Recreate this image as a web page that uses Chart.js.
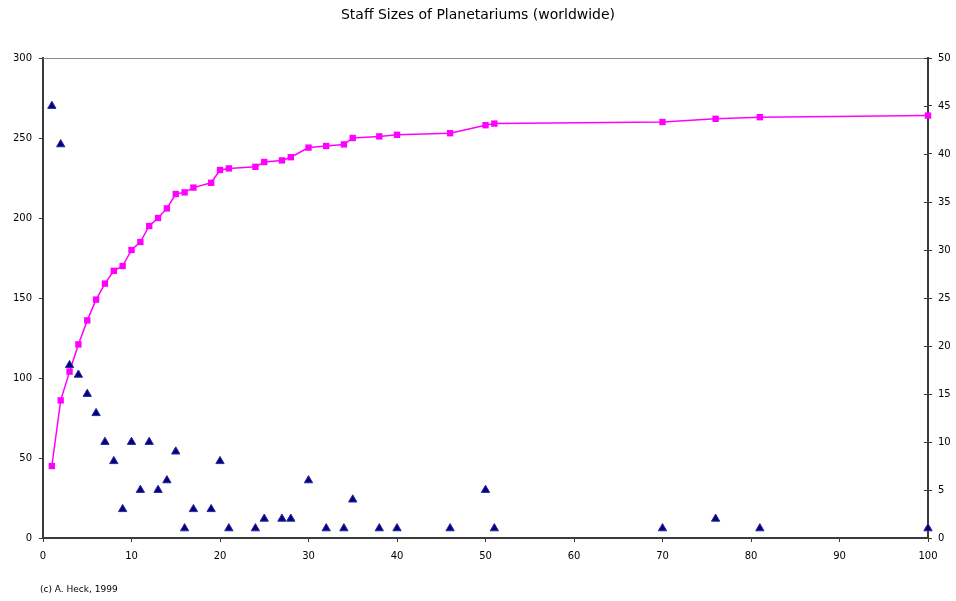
<!DOCTYPE html>
<html>
<head>
<meta charset="utf-8">
<script src="https://cdn.jsdelivr.net/npm/chart.js@4/dist/chart.umd.min.js"></script>
<style>
html,body{margin:0;padding:0;background:#fff;}
#wrap{width:956px;height:601px;position:relative;}
</style>
</head>
<body>
<div id="wrap"><canvas id="c" width="956" height="601"></canvas></div>
<script>
// Staff size (x), number of planetariums with that staff size (right axis),
// cumulative number of planetariums (left axis)
const staffSizes = [1,2,3,4,5,6,7,8,9,10,11,12,13,14,15,16,17,19,20,21,24,25,27,28,30,32,34,35,38,40,46,50,51,70,76,81,100];
const planetariumCounts = [45,41,18,17,15,13,10,8,3,10,5,10,5,6,9,1,3,3,8,1,1,2,2,2,6,1,1,4,1,1,1,5,1,1,2,1,1];
const cumulativeCounts = [45,86,104,121,136,149,159,167,170,180,185,195,200,206,215,216,219,222,230,231,232,235,236,238,244,245,246,250,251,252,253,258,259,260,262,263,264];

const titleText = 'Staff Sizes of Planetariums (worldwide)';
const footerText = '(c) A. Heck, 1999';
const xRange = [0, 100, 10];
const leftRange = [0, 300, 50];
const rightRange = [0, 50, 5];

const FONT = "'DejaVu Sans', sans-serif";
const AXIS = '#3a3a3a';

const cumulativeData = staffSizes.map((s, i) => ({x: s, y: cumulativeCounts[i]}));
const countData = staffSizes.map((s, i) => ({x: s, y: planetariumCounts[i]}));

const extras = {
  id: 'extras',
  afterDraw(chart) {
    const ctx = chart.ctx;
    const a = chart.chartArea;
    ctx.save();
    // top frame line
    ctx.strokeStyle = '#8a8a8a';
    ctx.lineWidth = 1;
    ctx.beginPath();
    ctx.moveTo(a.left, a.top + 0.5);
    ctx.lineTo(a.right, a.top + 0.5);
    ctx.stroke();
    // inner ticks on right axis
    const y1 = chart.scales.y1;
    ctx.strokeStyle = AXIS;
    ctx.beginPath();
    y1.ticks.forEach(t => {
      const py = Math.round(y1.getPixelForValue(t.value)) + 0.5;
      ctx.moveTo(a.right - 4, py);
      ctx.lineTo(a.right, py);
    });
    ctx.stroke();
    // footer
    ctx.fillStyle = '#000';
    ctx.font = '9px ' + FONT;
    ctx.textBaseline = 'middle';
    ctx.textAlign = 'left';
    ctx.fillText(footerText, 40, 590);
    ctx.restore();
  }
};

new Chart(document.getElementById('c'), {
  type: 'scatter',
  data: {
    datasets: [
      {
        label: 'Cumulative',
        data: cumulativeData,
        yAxisID: 'y',
        showLine: true,
        borderColor: '#ff00ff',
        backgroundColor: '#ff00ff',
        borderWidth: 1.5,
        pointStyle: 'rect',
        pointRadius: 4.5,
        pointBorderWidth: 0,
        clip: false,
        order: 2
      },
      {
        label: 'Count',
        data: countData,
        yAxisID: 'y1',
        showLine: false,
        borderColor: '#2a2a9a',
        backgroundColor: '#000080',
        pointStyle: 'triangle',
        pointRadius: 4.8,
        pointBorderWidth: 1,
        clip: false,
        order: 1
      }
    ]
  },
  options: {
    responsive: false,
    animation: false,
    devicePixelRatio: 1,
    layout: {padding: 0},
    plugins: {
      legend: {display: false},
      tooltip: {enabled: false},
      title: {
        display: true,
        text: titleText,
        color: '#000',
        font: {family: FONT, size: 14, weight: 'normal'},
        padding: {top: 6.6, bottom: 34.6}
      }
    },
    scales: {
      x: {
        type: 'linear',
        min: xRange[0], max: xRange[1],
        afterFit(s) { s.height = 63; },
        ticks: {stepSize: xRange[2], color: '#000', font: {family: FONT, size: 10}, padding: 8, maxRotation: 0},
        grid: {drawOnChartArea: false, drawTicks: true, tickLength: 4, color: AXIS},
        border: {display: true, color: AXIS, width: 2}
      },
      y: {
        type: 'linear',
        position: 'left',
        min: leftRange[0], max: leftRange[1],
        afterFit(s) { s.width = 43; },
        ticks: {stepSize: leftRange[2], color: '#000', font: {family: FONT, size: 10}, padding: 7},
        grid: {drawOnChartArea: false, drawTicks: true, tickLength: 4, color: AXIS},
        border: {display: true, color: AXIS, width: 2}
      },
      y1: {
        type: 'linear',
        position: 'right',
        min: rightRange[0], max: rightRange[1],
        afterFit(s) { s.width = 28; },
        ticks: {stepSize: rightRange[2], color: '#000', font: {family: FONT, size: 10}, padding: 6},
        grid: {drawOnChartArea: false, drawTicks: true, tickLength: 4, color: AXIS},
        border: {display: true, color: AXIS, width: 2}
      }
    }
  },
  plugins: [extras]
});
</script>
</body>
</html>
